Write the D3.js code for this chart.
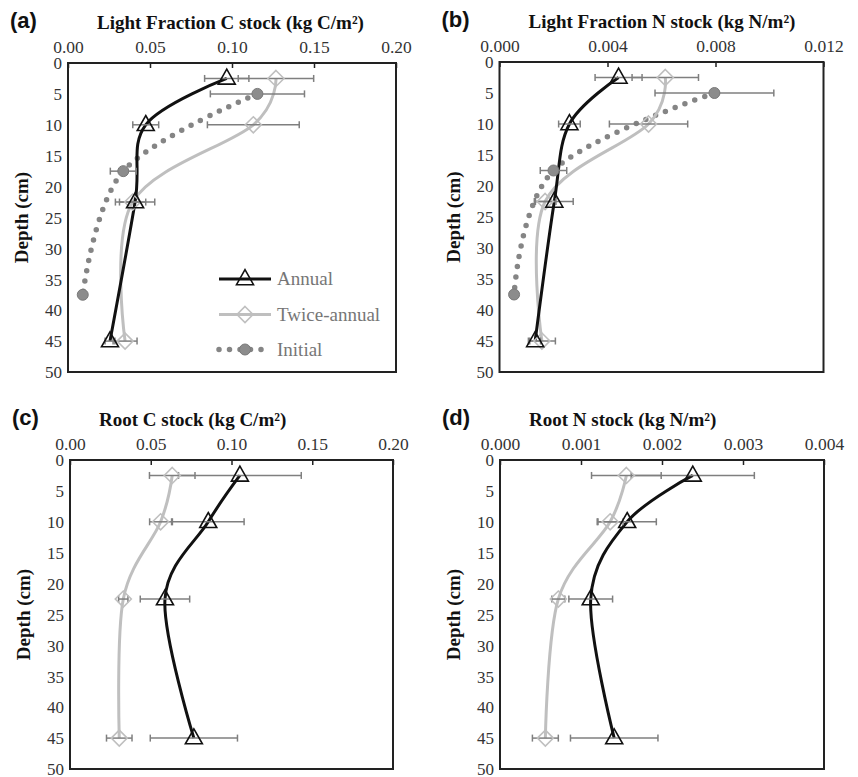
<!DOCTYPE html>
<html><head><meta charset="utf-8">
<script src="https://cdn.jsdelivr.net/npm/d3@7"></script>
<style>
html,body{margin:0;padding:0;background:#fff;}
svg{display:block;}
</style></head>
<body>
<svg id="chart" width="858" height="777"></svg>
<script>
// ---------- data ----------
const depths = [2.5, 10, 22.5, 45];
const depthsInitial = [5, 17.5, 37.5];
const depthTicks = [0, 5, 10, 15, 20, 25, 30, 35, 40, 45, 50];

const seriesNames = ["Annual", "Twice-annual", "Initial"];

// (a) Light Fraction C stock (kg C/m2)
const aAnnual = [0.0968, 0.0474, 0.0409, 0.0256];
const aAnnualErr = [0.0135, 0.0079, 0.0120, 0.0030];
const aTwice = [0.1268, 0.1130, 0.0394, 0.0348];
const aTwiceErr = [0.0230, 0.0280, 0.0080, 0.0073];
const aInitial = [0.1155, 0.0337, 0.0090];
const aInitialErr = [0.0287, 0.0079, 0.0010];

// (b) Light Fraction N stock (kg N/m2)
const bAnnual = [0.00441, 0.00259, 0.00203, 0.00132];
const bAnnualErr = [0.00087, 0.00040, 0.00070, 0.00020];
const bTwice = [0.00614, 0.00552, 0.00169, 0.00157];
const bTwiceErr = [0.00123, 0.00145, 0.00040, 0.00050];
const bInitial = [0.00796, 0.00200, 0.00054];
const bInitialErr = [0.00220, 0.00049, 0.00010];

// (c) Root C stock (kg C/m2)
const cAnnual = [0.1052, 0.0856, 0.0588, 0.0767];
const cAnnualErr = [0.0380, 0.0222, 0.0153, 0.0270];
const cTwice = [0.0633, 0.0561, 0.0330, 0.0305];
const cTwiceErr = [0.0141, 0.0068, 0.0029, 0.0079];

// (d) Root N stock (kg N/m2)
const dAnnual = [0.00238, 0.00157, 0.00112, 0.00141];
const dAnnualErr = [0.00076, 0.00036, 0.00027, 0.00054];
const dTwice = [0.00156, 0.00136, 0.00072, 0.00056];
const dTwiceErr = [0.00043, 0.00016, 0.00008, 0.00016];

const ticksC = [0, 0.05, 0.10, 0.15, 0.20];
const ticksLFN = [0, 0.004, 0.008, 0.012];
const ticksRootN = [0, 0.001, 0.002, 0.003, 0.004];

// ---------- drawing ----------
const svg = d3.select("#chart");
const SERIF = "Liberation Serif";
const SANS = "Liberation Sans";
const colAnnual = "#111111", colTwice = "#bfbfbf", colInit = "#858585", colErr = "#7f7f7f";

const panels = [
  {letter:"(a)", title:"Light Fraction C stock (kg C/m\u00B2)", x0:68, x1:396, y0:63, y1:372,
   dom:[0,0.20], ticks:ticksC, fmt:d3.format(".2f"),
   annual:aAnnual, annualErr:aAnnualErr, twice:aTwice, twiceErr:aTwiceErr,
   initial:aInitial, initialErr:aInitialErr, legend:true},
  {letter:"(b)", title:"Light Fraction N stock (kg N/m\u00B2)", x0:499.5, x1:823.5, y0:62, y1:372,
   dom:[0,0.012], ticks:ticksLFN, fmt:d3.format(".3f"),
   annual:bAnnual, annualErr:bAnnualErr, twice:bTwice, twiceErr:bTwiceErr,
   initial:bInitial, initialErr:bInitialErr},
  {letter:"(c)", title:"Root C stock (kg C/m\u00B2)", x0:70, x1:393, y0:460, y1:769,
   dom:[0,0.20], ticks:ticksC, fmt:d3.format(".2f"),
   annual:cAnnual, annualErr:cAnnualErr, twice:cTwice, twiceErr:cTwiceErr},
  {letter:"(d)", title:"Root N stock (kg N/m\u00B2)", x0:500, x1:824, y0:460, y1:769,
   dom:[0,0.004], ticks:ticksRootN, fmt:d3.format(".3f"),
   annual:dAnnual, annualErr:dAnnualErr, twice:dTwice, twiceErr:dTwiceErr}
];

const line = (x, y) => d3.line().x(d => x(d.v)).y(d => y(d.d)).curve(d3.curveCatmullRom.alpha(0));

function triangle(g, cx, cy){
  const w = 17, h = 15;
  g.append("path").attr("d", `M${cx},${cy-h*0.62}L${cx+w/2},${cy+h*0.38}L${cx-w/2},${cy+h*0.38}Z`)
   .attr("fill","none").attr("stroke",colAnnual).attr("stroke-width",1.6);
}
function diamond(g, cx, cy){
  const r = 8;
  g.append("path").attr("d", `M${cx},${cy-r}L${cx+r},${cy}L${cx},${cy+r}L${cx-r},${cy}Z`)
   .attr("fill","none").attr("stroke",colTwice).attr("stroke-width",1.6);
}
function dot(g, cx, cy){
  g.append("circle").attr("cx",cx).attr("cy",cy).attr("r",5.5)
   .attr("fill","#8c8c8c").attr("stroke","#7a7a7a").attr("stroke-width",1);
}

panels.forEach(p => {
  const x = d3.scaleLinear().domain(p.dom).range([p.x0, p.x1]);
  const y = d3.scaleLinear().domain([0,50]).range([p.y0, p.y1]);
  const g = svg.append("g");

  // panel letter & title
  g.append("text").attr("x", p.x0 - 58).attr("y", p.y0 - 35).text(p.letter)
   .style("font-family", SANS).attr("font-weight","bold").attr("font-size",22).attr("fill","#111");
  g.append("text").attr("x", p.x0 + 29).attr("y", p.y0 - 34).text(p.title)
   .style("font-family", SERIF).attr("font-weight","bold").attr("font-size",19).attr("fill","#111");

  // axes
  const xa = g.append("g").attr("transform",`translate(0,${p.y0})`)
    .call(d3.axisTop(x).tickValues(p.ticks).tickFormat(p.fmt).tickSizeInner(-5).tickSizeOuter(0).tickPadding(10));
  xa.attr("font-family", null).attr("font-size", null);
  xa.select(".domain").remove();
  xa.selectAll("line").attr("stroke","#222").attr("stroke-width",1.5);
  xa.selectAll("text").style("font-family",SERIF).style("font-size","17.5px").attr("fill","#333");
  const ya = g.append("g").attr("transform",`translate(${p.x0},0)`)
    .call(d3.axisLeft(y).tickValues(depthTicks).tickFormat(d3.format("d")).tickSize(0).tickPadding(6));
  ya.attr("font-family", null).attr("font-size", null);
  ya.select(".domain").remove();
  ya.selectAll("text").style("font-family",SERIF).style("font-size","17px").attr("fill","#333").attr("dy","0.34em");

  // frame
  g.append("rect").attr("x",p.x0).attr("y",p.y0).attr("width",p.x1-p.x0).attr("height",p.y1-p.y0)
   .attr("fill","none").attr("stroke","#222").attr("stroke-width",2);

  // y axis label
  g.append("text").attr("transform",`translate(${p.x0-40},${(p.y0+p.y1)/2}) rotate(-90)`)
   .attr("text-anchor","middle").text("Depth (cm)")
   .style("font-family",SERIF).attr("font-weight","bold").attr("font-size",19).attr("fill","#111");

  const mk = (vals, ds, errs) => vals.map((v,i)=>({v, d:ds[i], e:errs[i]}));
  const annual = mk(p.annual, depths, p.annualErr);
  const twice = mk(p.twice, depths, p.twiceErr);
  const initial = p.initial ? mk(p.initial, depthsInitial, p.initialErr) : null;

  // lines
  if (initial) {
    g.append("path").datum(initial).attr("d", line(x,y)).attr("fill","none")
     .attr("stroke",colInit).attr("stroke-width",5.5).attr("stroke-linecap","round")
     .attr("stroke-dasharray","0 10.5");
  }
  g.append("path").datum(twice).attr("d", line(x,y)).attr("fill","none")
   .attr("stroke",colTwice).attr("stroke-width",3);
  g.append("path").datum(annual).attr("d", line(x,y)).attr("fill","none")
   .attr("stroke",colAnnual).attr("stroke-width",3);

  // error bars
  const eb = (data) => data.forEach(d => {
    const cy = y(d.d), xl = x(d.v - d.e), xr = x(d.v + d.e);
    g.append("line").attr("x1",xl).attr("x2",xr).attr("y1",cy).attr("y2",cy).attr("stroke",colErr).attr("stroke-width",1.5);
    [xl,xr].forEach(xx => g.append("line").attr("x1",xx).attr("x2",xx).attr("y1",cy-3.5).attr("y2",cy+3.5)
      .attr("stroke",colErr).attr("stroke-width",1.5));
  });
  eb(annual); eb(twice); if (initial) eb(initial);

  // markers
  twice.forEach(d => diamond(g, x(d.v), y(d.d)));
  annual.forEach(d => triangle(g, x(d.v), y(d.d)));
  if (initial) initial.forEach(d => dot(g, x(d.v), y(d.d)));

  // legend
  if (p.legend) {
    const lx0 = 219, lx1 = 271, tx = 277;
    const rows = [279, 314.5, 349.5];
    const lg = g.append("g");
    lg.append("line").attr("x1",lx0).attr("x2",lx1).attr("y1",rows[0]).attr("y2",rows[0]).attr("stroke",colAnnual).attr("stroke-width",3);
    triangle(lg, (lx0+lx1)/2, rows[0]);
    lg.append("line").attr("x1",lx0).attr("x2",lx1).attr("y1",rows[1]).attr("y2",rows[1]).attr("stroke",colTwice).attr("stroke-width",3);
    diamond(lg, (lx0+lx1)/2, rows[1]);
    lg.append("line").attr("x1",lx0).attr("x2",lx1).attr("y1",rows[2]).attr("y2",rows[2]).attr("stroke",colInit)
      .attr("stroke-width",5.5).attr("stroke-linecap","round").attr("stroke-dasharray","0 10.5");
    dot(lg, (lx0+lx1)/2, rows[2]);
    seriesNames.forEach((n,i) => lg.append("text").attr("x",tx).attr("y",rows[i]).attr("dy","0.33em").text(n)
      .style("font-family",SERIF).attr("font-size",19).attr("fill","#767676"));
  }
});
</script>
</body></html>
